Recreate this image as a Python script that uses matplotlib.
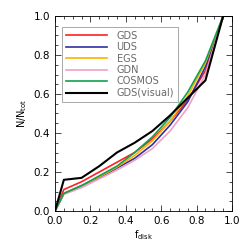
import numpy as np
import matplotlib.pyplot as plt
from matplotlib.ticker import MultipleLocator

# f_disk bins
fdisk = [0.0, 0.05, 0.15, 0.25, 0.35, 0.45, 0.55, 0.65, 0.75, 0.85, 0.95, 1.0]

gds = [0.0, 0.11, 0.15, 0.20, 0.25, 0.30, 0.37, 0.46, 0.57, 0.72, 1.0, 1.0]
uds = [0.0, 0.09, 0.13, 0.17, 0.22, 0.27, 0.34, 0.44, 0.56, 0.74, 1.0, 1.0]
egs = [0.0, 0.09, 0.13, 0.175, 0.225, 0.285, 0.36, 0.46, 0.59, 0.76, 1.0, 1.0]
gdn = [0.0, 0.085, 0.12, 0.165, 0.21, 0.26, 0.32, 0.41, 0.53, 0.70, 1.0, 1.0]
cosmos = [0.0, 0.09, 0.13, 0.18, 0.23, 0.30, 0.38, 0.48, 0.61, 0.77, 1.0, 1.0]
gds_vis = [0.0, 0.16, 0.17, 0.23, 0.30, 0.35, 0.41, 0.49, 0.58, 0.67, 1.0, 1.0]

series = [('GDS', gds, '#ff2020'), ('UDS', uds, '#3030a0'), ('EGS', egs, '#ffb000'),
          ('GDN', gdn, '#f0a0c8'), ('COSMOS', cosmos, '#10a050'), ('GDS(visual)', gds_vis, 'black')]

fig = plt.figure(figsize=(2.49, 2.49), dpi=100)
ax = fig.add_axes([55/249, 1-211/249, 177/249, 195/249])
for name, vals, c in series:
    ax.plot(fdisk, vals, color=c, lw=1.5 if name == 'GDS(visual)' else 1.2, label=name)

ax.set_xlim(0, 1)
ax.set_ylim(0, 1)
ax.xaxis.set_major_locator(MultipleLocator(0.2))
ax.yaxis.set_major_locator(MultipleLocator(0.2))
ax.xaxis.set_minor_locator(MultipleLocator(0.05))
ax.yaxis.set_minor_locator(MultipleLocator(0.05))
ax.tick_params(which='both', direction='in', top=True, right=True, labelsize=7.5, width=0.5)
ax.tick_params(which='major', length=4)
ax.tick_params(which='minor', length=2)
for s in ax.spines.values():
    s.set_linewidth(0.6)
ax.set_xlabel(r'f$_{\rm disk}$', fontsize=7, labelpad=2)
ax.set_ylabel(r'N/N$_{\rm tot}$', fontsize=7, labelpad=3)

leg = ax.legend(loc='upper left', bbox_to_anchor=(0.04, 0.945), fontsize=7, frameon=True,
                fancybox=False, edgecolor='gray', handlelength=4.2, borderpad=0.4,
                labelspacing=0.15, handletextpad=1.0, borderaxespad=0)
leg.get_frame().set_linewidth(0.6)
for t in leg.get_texts():
    t.set_color('dimgray')

plt.savefig('out.png', dpi=100)
